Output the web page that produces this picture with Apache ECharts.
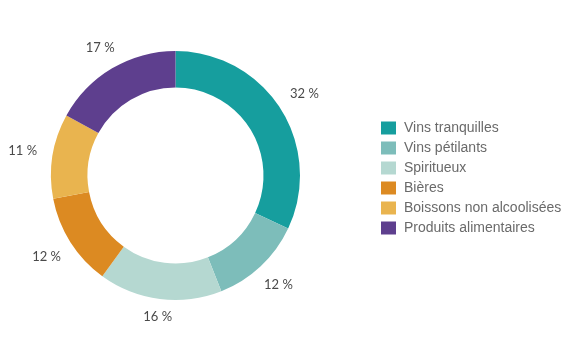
<!DOCTYPE html>
<html>
<head>
<meta charset="utf-8">
<script src="https://cdn.jsdelivr.net/npm/echarts@6/dist/echarts.min.js"></script>
<style>
  html, body { margin: 0; padding: 0; background: #ffffff; }
  #chart { width: 580px; height: 350px; }
</style>
</head>
<body>
<div id="chart"></div>
<script>
// Répartition par catégorie (%)
const categories = ['Vins tranquilles', 'Vins pétilants', 'Spiritueux', 'Bières', 'Boissons non alcoolisées', 'Produits alimentaires'];
const values = [32, 12, 16, 12, 11, 17];
const colors = ['#169e9e', '#7dbdba', '#b5d8d1', '#dc8a22', '#e9b44f', '#5e3f8e'];

const CX = 175.5, CY = 175.5, R_IN = 88, R_OUT = 124.5;
const LABEL_GAP = 16;

const total = values.reduce((a, b) => a + b, 0);
// mid-angle of each slice (clockwise from 12 o'clock)
const midAngles = values.map((v, i) => {
  const before = values.slice(0, i).reduce((a, b) => a + b, 0);
  return (before + v / 2) / total * Math.PI * 2;
});

const chart = echarts.init(document.getElementById('chart'));

chart.setOption({
  animation: false,
  legend: {
    orient: 'vertical',
    left: 376,
    top: 116,
    itemWidth: 15,
    itemHeight: 13,
    itemGap: 6,
    icon: 'rect',
    data: categories,
    textStyle: { fontFamily: 'Liberation Sans, Arial, sans-serif', fontSize: 14, color: '#6a6a6a', padding: [0, 0, 0, 3] }
  },
  series: [
    {
      type: 'pie',
      center: [CX, CY],
      radius: [R_IN, R_OUT],
      startAngle: 90,
      clockwise: true,
      avoidLabelOverlap: false,
      label: {
        show: true,
        position: 'outside',
        overflow: 'none',
        formatter: p => p.value + ' %',
        fontFamily: 'Lato, Open Sans, sans-serif',
        fontSize: 13,
        color: '#4a4a4a'
      },
      labelLine: { show: false },
      // place each label just outside the ring, pushed out by its half-width on the sides
      labelLayout: params => {
        const a = midAngles[params.dataIndex];
        const dx = Math.sin(a), dy = -Math.cos(a);
        const w = params.labelRect.width;
        const d = R_OUT + LABEL_GAP + Math.abs(dx) * w / 2;
        return { x: CX + dx * d, y: CY + dy * d, align: 'center', verticalAlign: 'middle' };
      },
      data: categories.map((name, i) => ({ name, value: values[i], itemStyle: { color: colors[i] } }))
    }
  ]
});
</script>
</body>
</html>
